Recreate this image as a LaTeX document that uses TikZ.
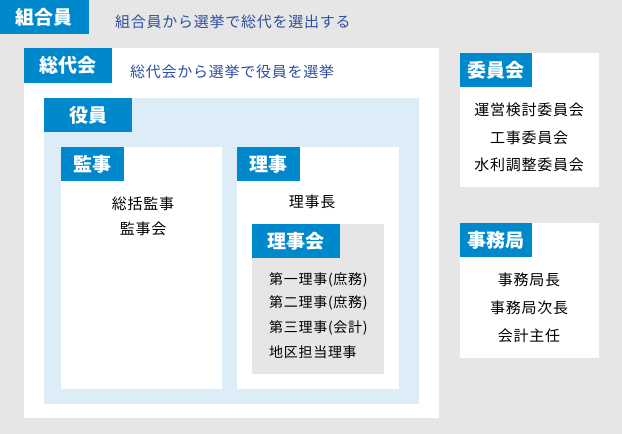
\documentclass[tikz,border=0pt]{standalone}
\usepackage{fontspec}
\setmainfont{Noto Sans CJK JP}
\newfontfamily\spaced[LetterSpace=5]{Noto Sans CJK JP}
\definecolor{bggray}{HTML}{E6E6E6}
\definecolor{lblblue}{HTML}{0088CC}
\definecolor{lightblue}{HTML}{DCEDF7}
\definecolor{descblue}{HTML}{2E4FA0}
\tikzset{
  box/.style={anchor=north west, inner sep=0pt, outer sep=0pt, draw=none},
  lbl/.style={anchor=north west, inner sep=0pt, outer sep=0pt, fill=lblblue, text=white,
    font=\fontsize{19}{19}\selectfont\bfseries},
  item/.style={inner sep=0pt, text=black, font=\spaced\fontsize{15}{15}\selectfont},
  smallitem/.style={inner sep=0pt, anchor=west, text=black, font=\spaced\fontsize{14}{14}\selectfont},
  desc/.style={inner sep=0pt, anchor=west, text=descblue, font=\spaced\fontsize{15}{15}\selectfont}
}
\begin{document}
\begin{tikzpicture}[x=1pt,y=-1pt]
\useasboundingbox (0,0) rectangle (622,434);
\fill[bggray] (0,0) rectangle (622,434);
% 組合員
\node[lbl, minimum width=89pt, minimum height=34pt] (kumiaiL) at (0,0) {組合員};
\node[desc] (kumiaiD) at (115,22) {組合員から選挙で総代を選出する};
% 総代会
\node[box, fill=white, minimum width=415pt, minimum height=370pt] (sodai) at (24,48) {};
\node[lbl, minimum width=88pt, minimum height=35pt] (sodaiL) at (24,48) {総代会};
\node[desc] (sodaiD) at (130,72) {総代会から選挙で役員を選挙};
% 役員
\node[box, fill=lightblue, minimum width=375pt, minimum height=306pt] (yakuin) at (44,98) {};
\node[lbl, minimum width=88pt, minimum height=34pt] (yakuinL) at (44,98) {役員};
% 監事
\node[box, fill=white, minimum width=161pt, minimum height=242pt] (kanji) at (61,147) {};
\node[lbl, minimum width=63pt, minimum height=34pt] (kanjiL) at (61,147) {監事};
\node[item] (k1) at (143,204) {総括監事};
\node[item] (k2) at (143,229) {監事会};
% 理事
\node[box, fill=white, minimum width=162pt, minimum height=242pt] (riji) at (237,147) {};
\node[lbl, minimum width=63pt, minimum height=34pt] (rijiL) at (237,147) {理事};
\node[item] (r0) at (312,202) {理事長};
% 理事会
\node[box, fill=bggray, minimum width=132pt, minimum height=150pt] (rijikai) at (252,224) {};
\node[lbl, minimum width=88pt, minimum height=34pt] (rijikaiL) at (252,224) {理事会};
\node[smallitem] (r1) at (269,280) {第一理事(庶務)};
\node[smallitem] (r2) at (269,303) {第二理事(庶務)};
\node[smallitem] (r3) at (269,328) {第三理事(会計)};
\node[smallitem] (r4) at (269,352) {地区担当理事};
% 委員会
\node[box, fill=white, minimum width=139pt, minimum height=134pt] (iinkai) at (460,53) {};
\node[lbl, minimum width=72pt, minimum height=34pt] (iinkaiL) at (460,53) {委員会};
\node[item] (i1) at (529,110) {運営検討委員会};
\node[item] (i2) at (529,138) {工事委員会};
\node[item] (i3) at (529,165) {水利調整委員会};
% 事務局
\node[box, fill=white, minimum width=139pt, minimum height=135pt] (jimu) at (460,223) {};
\node[lbl, minimum width=72pt, minimum height=34pt] (jimuL) at (460,223) {事務局};
\node[item] (j1) at (529,280) {事務局長};
\node[item] (j2) at (529,308) {事務局次長};
\node[item] (j3) at (529,336) {会計主任};
\end{tikzpicture}
\end{document}
